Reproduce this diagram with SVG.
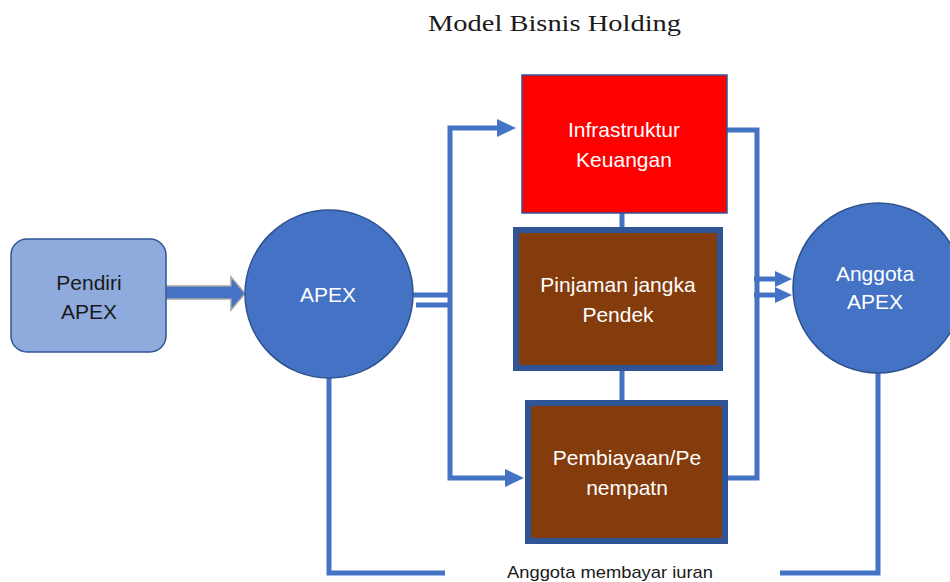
<svg xmlns="http://www.w3.org/2000/svg" width="950" height="582" viewBox="0 0 950 582">
  <style>
    .line { fill: none; stroke: #4472c4; stroke-width: 5; }
    .head { fill: #4472c4; stroke: none; }
    .lbl { font-family: "Liberation Sans", Arial, sans-serif; font-size: 21px; text-anchor: middle; fill: #ffffff; }
    .dark { fill: #1a1a1a; }
    .title { font-family: "Liberation Serif", "DejaVu Serif", serif; font-size: 23px; fill: #1a1a1a; }
  </style>

  <rect x="0" y="0" width="950" height="582" fill="#ffffff"/>

  <text class="title" x="428" y="31" textLength="253" lengthAdjust="spacingAndGlyphs">Model Bisnis Holding</text>

  <!-- connectors -->
  <g id="connectors">
    <!-- founder to APEX block arrow -->
    <polygon points="166,286 231,286 231,277 245,293.5 231,310 231,299 166,299" fill="#4472c4" stroke="#a5a5a5" stroke-width="1.5"/>
    <!-- APEX double link to the distribution bar -->
    <line class="line" x1="412" y1="295" x2="452" y2="295" stroke-width="4"/>
    <line class="line" x1="416" y1="305" x2="452" y2="305" stroke-width="4"/>
    <!-- distribution bar -->
    <polyline class="line" points="499,128 450,128 450,478 507,478"/>
    <polygon class="head" points="497,119 516,128 497,137"/>
    <polygon class="head" points="505,469 524,478 505,487"/>
    <!-- stacked boxes links -->
    <line class="line" x1="622" y1="212" x2="622" y2="230"/>
    <line class="line" x1="622" y1="370" x2="622" y2="403"/>
    <!-- collector bar to Anggota -->
    <polyline class="line" points="727,130 757,130 757,478 728,478"/>
    <line class="line" x1="754" y1="279" x2="778" y2="279"/>
    <line class="line" x1="754" y1="295" x2="778" y2="295"/>
    <polygon class="head" points="775,271 792,279 775,287"/>
    <polygon class="head" points="775,287 792,295 775,303"/>
    <!-- dues loop -->
    <polyline class="line" points="329,378 329,573 445,573"/>
    <polyline class="line" points="780,573 878,573 878,372"/>
  </g>

  <g id="pendiri">
    <rect x="11" y="239" width="155" height="113" rx="16" ry="16" fill="#8faadc" stroke="#2f5597" stroke-width="1.5"/>
    <text class="lbl dark" x="89" y="290">Pendiri</text>
    <text class="lbl dark" x="89" y="319">APEX</text>
  </g>

  <g id="apex">
    <circle cx="329" cy="294" r="84" fill="#4472c4" stroke="#2f528f" stroke-width="1.5"/>
    <text class="lbl" x="328" y="302">APEX</text>
  </g>

  <g id="infrastruktur">
    <rect x="522" y="75" width="205" height="138" fill="#ff0000" stroke="#2f5597" stroke-width="1.5"/>
    <text class="lbl" x="624" y="137">Infrastruktur</text>
    <text class="lbl" x="624" y="167">Keuangan</text>
  </g>

  <g id="pinjaman">
    <rect x="516" y="230" width="204" height="138" fill="#843c0c" stroke="#2f5597" stroke-width="6"/>
    <text class="lbl" x="618" y="292">Pinjaman jangka</text>
    <text class="lbl" x="618" y="322">Pendek</text>
  </g>

  <g id="pembiayaan">
    <rect x="528" y="403" width="197" height="138" fill="#843c0c" stroke="#2f5597" stroke-width="6"/>
    <text class="lbl" x="627" y="465">Pembiayaan/Pe</text>
    <text class="lbl" x="627" y="495">nempatn</text>
  </g>

  <g id="anggota">
    <circle cx="878" cy="288" r="85" fill="#4472c4" stroke="#2f528f" stroke-width="1.5"/>
    <text class="lbl" x="875" y="281">Anggota</text>
    <text class="lbl" x="875" y="309">APEX</text>
  </g>

  <text class="lbl dark" x="610" y="578" font-size="17" textLength="206" lengthAdjust="spacingAndGlyphs" style="font-size:17px">Anggota membayar iuran</text>
</svg>
